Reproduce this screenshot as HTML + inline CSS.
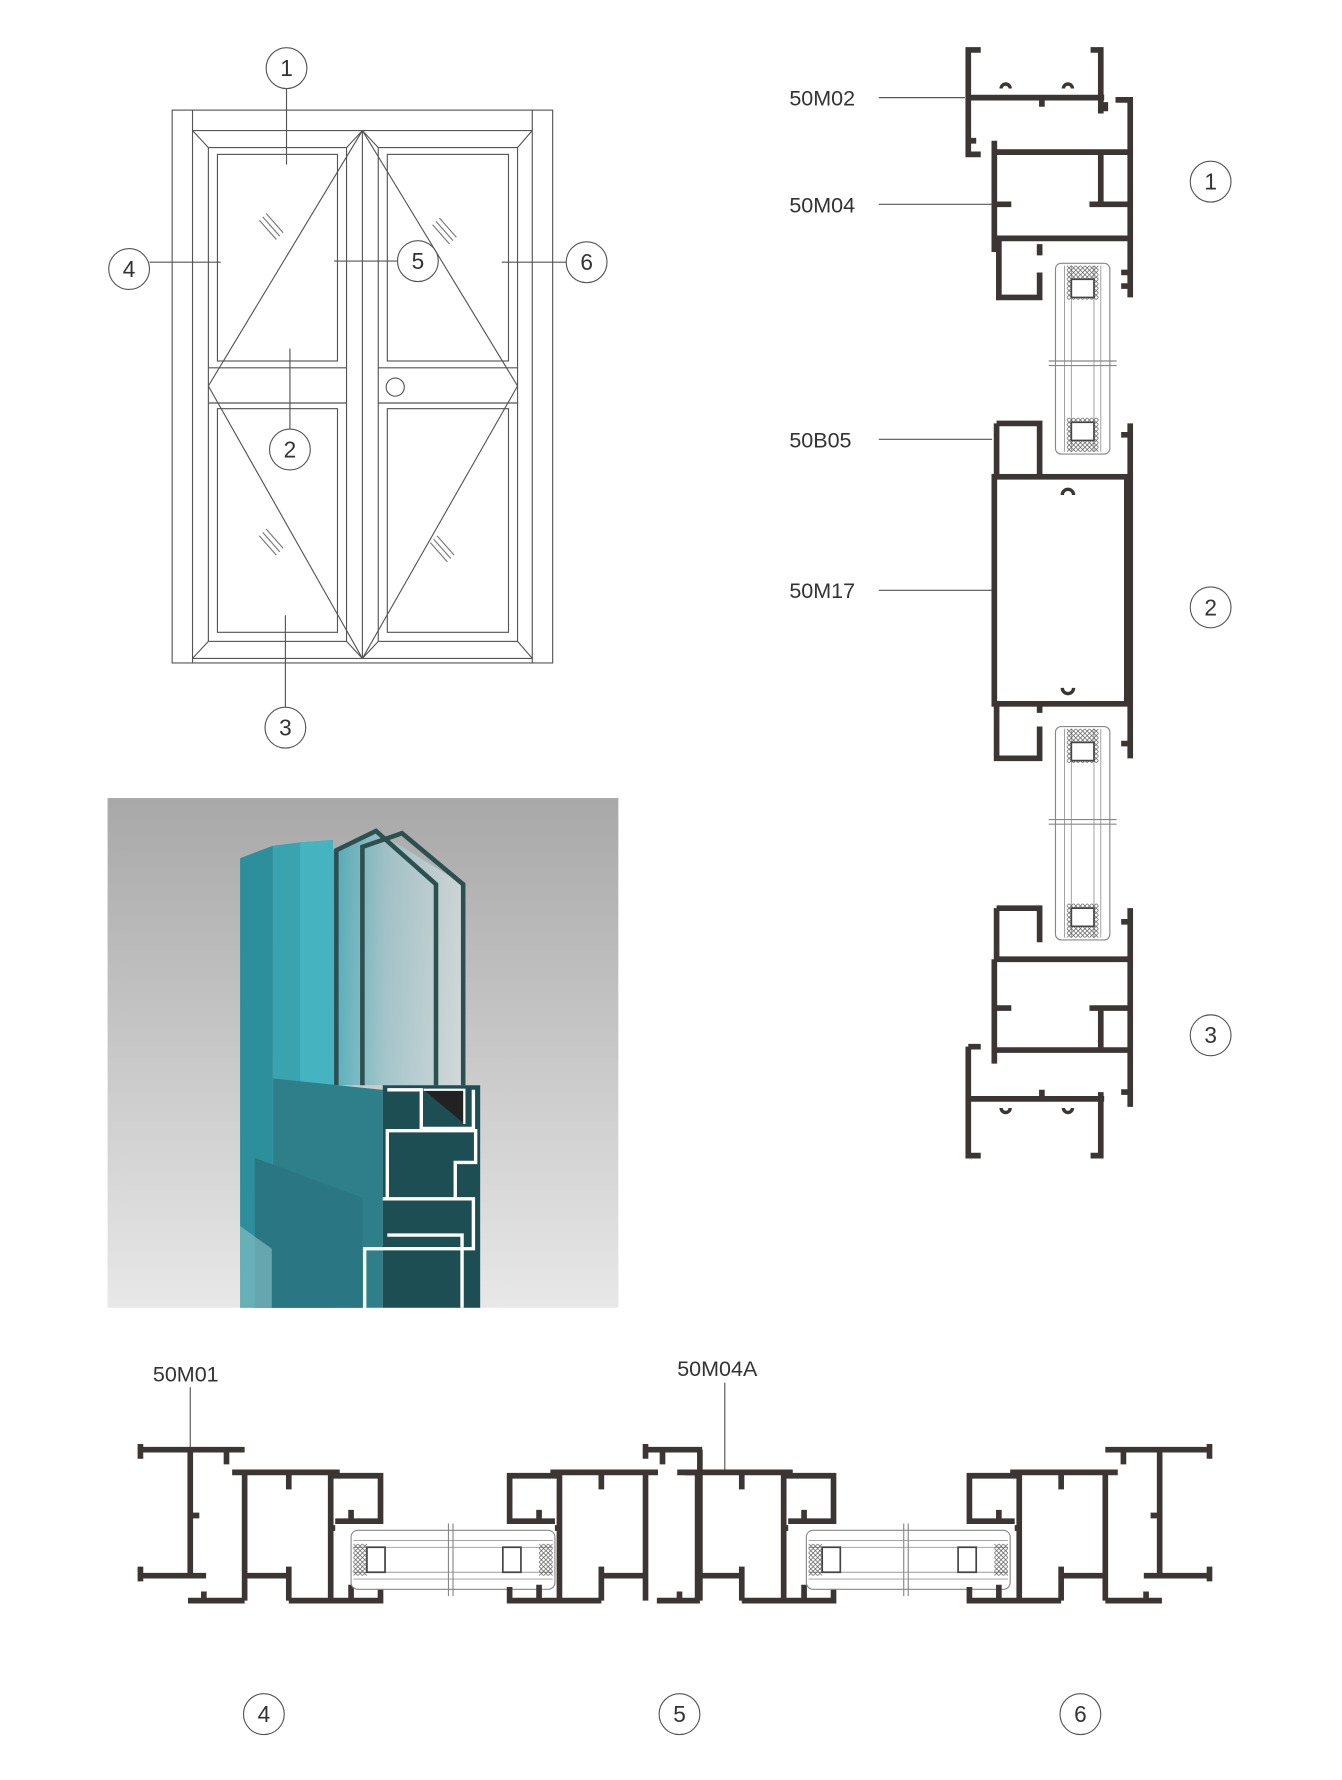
<!DOCTYPE html>
<html><head><meta charset="utf-8"><style>
html,body{margin:0;padding:0;background:#fff;}
svg{display:block;}
text{font-family:"Liberation Sans",sans-serif;fill:#333;}
</style></head><body>
<svg width="1342" height="1780" viewBox="0 0 1185 1568" preserveAspectRatio="none" xmlns="http://www.w3.org/2000/svg">
<defs>
<pattern id="hx" width="4" height="4" patternUnits="userSpaceOnUse"><path d="M0,0L4,4M4,0L0,4" stroke="#555" stroke-width="0.6"/></pattern>
<linearGradient id="bg" x1="0" y1="0" x2="0" y2="1"><stop offset="0" stop-color="#a8a8a8"/><stop offset="1" stop-color="#e8e8e8"/></linearGradient>
<linearGradient id="gl" x1="0" y1="0" x2="1" y2="0"><stop offset="0" stop-color="#3aa9b8"/><stop offset="0.4" stop-color="#9cc4ca"/><stop offset="1" stop-color="#d4dcdd"/></linearGradient>
<g id="sash" fill="none" stroke="#3b3534" stroke-width="5">
<path d="M205,1297H300M216,1297V1410M292,1297V1410M255,1297V1312M216,1388H255M255,1380V1410M255,1410H336M292,1300H336V1340H296M310,1340V1330M296,1346H292M310,1410V1396M320,1410H336V1398"/>
</g>
<g id="glass">
<rect x="310" y="1348" width="180" height="52" rx="6" fill="#fff" stroke="#888" stroke-width="1"/>
<path d="M312,1357H488M312,1391H488M312,1363H488M312,1385H488" stroke="#999" stroke-width="0.8"/>
<rect x="312" y="1360" width="12" height="28" fill="url(#hx)"/>
<rect x="476" y="1360" width="12" height="28" fill="url(#hx)"/>
<path d="M324,1363H340V1385H324Z M444,1363H460V1385H444Z" fill="#fff" stroke="#444" stroke-width="1.5"/>
<path d="M396,1342V1406M400,1342V1406" stroke="#888" stroke-width="1"/>
</g>
<g id="jamb" fill="none" stroke="#3b3534" stroke-width="5">
<path d="M124,1272V1285M124,1277H216M200,1277V1290M168,1277V1390M124,1380V1393M124,1388H182M168,1335H176M166,1410H216M180,1410V1402"/>
</g>
</defs>

<!-- DOOR ELEVATION -->
<g fill="none" stroke="#555" stroke-width="1">
<rect x="152" y="97" width="336" height="487"/>
<path d="M170,97V584M470,97V584M170,115H470M170,580H470"/>
<path d="M170,115L184,130M470,115L457,130M170,580L184,565M470,580L457,565"/>
<rect x="184" y="130" width="122" height="435"/>
<rect x="334" y="130" width="123" height="435"/>
<rect x="192" y="136" width="106" height="182"/>
<rect x="192" y="360" width="106" height="197"/>
<rect x="342" y="136" width="107" height="182"/>
<rect x="342" y="360" width="107" height="197"/>
<path d="M184,324H306M184,355H306M334,324H457M334,355H457"/>
<path d="M306,130L320,115L334,130M306,565L320,580L334,565M320,115V580"/>
<path d="M320,115L184,340L320,580M320,115L457,340L320,580"/>
<circle cx="349" cy="341" r="8"/>
<path d="M229,194L244,211M232,191L247,208M235,188L250,205M229,472L244,489M232,469L247,486M235,466L250,483M382,198L397,215M385,195L400,212M388,192L403,209M380,478L395,495M383,475L398,492M386,472L401,489" stroke="#777"/>
<path d="M253,78V145M132,231H195M351,230H295M500,231H443M256,307V378M252,542V623"/>
<circle cx="253" cy="60" r="18"/><circle cx="114" cy="237" r="18"/><circle cx="369" cy="230" r="18"/><circle cx="518" cy="231" r="18"/><circle cx="256" cy="396" r="18"/><circle cx="252" cy="641" r="18"/>
</g>
<g font-size="20" text-anchor="middle">
<text x="253" y="67">1</text><text x="114" y="244">4</text><text x="369" y="237">5</text><text x="518" y="238">6</text><text x="256" y="403">2</text><text x="252" y="648">3</text>
</g>

<!-- VERTICAL SECTION -->
<g font-size="19">
<text x="697" y="93">50M02</text><text x="697" y="187">50M04</text><text x="697" y="394">50B05</text><text x="697" y="527">50M17</text>
</g>
<path d="M776,86H852M776,180H876M776,387H876M776,520H876" stroke="#555" stroke-width="1"/>
<g fill="none" stroke="#555" stroke-width="1"><circle cx="1069" cy="160" r="18"/><circle cx="1069" cy="535" r="18"/><circle cx="1069" cy="912" r="18"/></g>
<g font-size="20" text-anchor="middle"><text x="1069" y="167">1</text><text x="1069" y="542">2</text><text x="1069" y="919">3</text></g>
<g fill="none" stroke="#3b3534" stroke-width="5">
<path d="M866,44H855V136H866M855,124H862M963,44H972V100M855,86H975M920,86V94M976,90V98"/>
<path d="M878,124V222M878,134H998M985,88H998V262M972,134V180M962,180H998M878,180H893M878,210H998M882,212V262H918V240M918,215V225M990,240H998M990,252H998"/>
<path d="M880,373H918V418M880,373V418M998,373V668M990,383H998M990,655H998"/>
<rect x="878" y="420" width="117" height="200"/>
<path d="M880,620V668H918V640M918,620V628"/>
<path d="M880,800H918V830M880,800V845M998,800V975M990,812H998M990,962H998"/>
<path d="M878,845H998M878,845V937M878,888H893M962,888H998M972,888V925M878,925H998"/>
<path d="M855,922V1018H866M866,922H855M972,962V1018H963M855,968H975M920,968V960"/>
</g>
<g fill="none" stroke="#3b3534" stroke-width="3">
<path d="M938,436A5,5 0 1 1 948,436M938,606A5,5 0 1 0 948,606M884,78A4,4 0 1 1 892,78M939,78A4,4 0 1 1 947,78M884,976A4,4 0 1 0 892,976M939,976A4,4 0 1 0 947,976"/>
</g>
<g>
<rect x="932" y="232" width="48" height="168" rx="5" fill="#fff" stroke="#888"/>
<rect x="932" y="640" width="48" height="188" rx="5" fill="#fff" stroke="#888"/>
<path d="M940,234V398M946,234V398M966,234V398M972,234V398M940,642V826M946,642V826M966,642V826M972,642V826" stroke="#999" stroke-width="0.8"/>
<rect x="942" y="234" width="28" height="30" fill="url(#hx)"/><rect x="942" y="368" width="28" height="30" fill="url(#hx)"/>
<rect x="942" y="642" width="28" height="30" fill="url(#hx)"/><rect x="942" y="796" width="28" height="30" fill="url(#hx)"/>
<path d="M946,246H966V262H946ZM946,372H966V388H946ZM946,654H966V670H946ZM946,800H966V816H946Z" fill="#fff" stroke="#444" stroke-width="1.5"/>
<path d="M926,318H986M926,322H986M926,722H986M926,726H986" stroke="#888"/>
</g>

<!-- PHOTO -->
<rect x="95" y="703" width="451" height="449" fill="url(#bg)"/>
<polygon points="212,756 241,745 241,1152 212,1152" fill="#2e8f9c"/>
<polygon points="241,745 265,742 294,740 294,1152 241,1152" fill="#3aa3b0"/>
<polygon points="265,742 294,740 294,1000 265,1000" fill="#45b3c0"/>
<polygon points="294,749 332,732 409,779 409,956 294,956" fill="url(#gl)" opacity="0.8"/>
<path d="M297,956V749L332,732L385,779V956M320,956V746L355,734L409,779V956" fill="none" stroke="#2c4f50" stroke-width="4"/>
<polygon points="241,950 338,960 338,1152 241,1152" fill="#2f7f8b"/>
<polygon points="225,1020 320,1055 320,1152 225,1152" fill="#2a7682"/>
<polygon points="212,1080 240,1100 240,1152 212,1152" fill="#8fc6cc" opacity="0.6"/>
<rect x="338" y="956" width="86" height="196" fill="#1d4e53"/>
<path d="M342,960H372V994H418V960M342,996H420V1024H402V1056H342ZM338,1056H418V1100H322V1152M342,1088H408V1152" fill="none" stroke="#fff" stroke-width="3"/>
<path d="M374,960H410V990" fill="#222" stroke="#fff" stroke-width="2"/>

<!-- HORIZONTAL SECTION -->
<g font-size="19"><text x="135" y="1217">50M01</text><text x="598" y="1212">50M04A</text></g>
<path d="M168,1222V1275M640,1218V1297" stroke="#555" stroke-width="1"/>
<use href="#jamb"/>
<use href="#sash"/>
<use href="#glass"/>
<use href="#sash" transform="translate(786,0) scale(-1,1)"/>
<g fill="none" stroke="#3b3534" stroke-width="5">
<path d="M570,1272V1285M570,1277H620M585,1277V1290M618,1277V1410M580,1410H618M600,1410V1402M598,1297H618"/>
</g>
<use href="#sash" transform="translate(400,0)"/>
<use href="#glass" transform="translate(402,0)"/>
<use href="#sash" transform="translate(1192,0) scale(-1,1)"/>
<use href="#jamb" transform="translate(1192,0) scale(-1,1)"/>
<g fill="none" stroke="#555" stroke-width="1"><circle cx="233" cy="1510" r="18"/><circle cx="600" cy="1510" r="18"/><circle cx="954" cy="1510" r="18"/></g>
<g font-size="20" text-anchor="middle"><text x="233" y="1517">4</text><text x="600" y="1517">5</text><text x="954" y="1517">6</text></g>
</svg>
</body></html>
